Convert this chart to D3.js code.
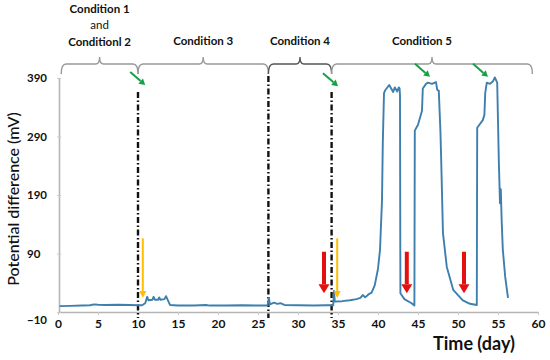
<!DOCTYPE html>
<html>
<head>
  <meta charset='utf-8'>
  <title>Potential difference</title>
  <script src="https://cdnjs.cloudflare.com/ajax/libs/d3/7.8.5/d3.min.js"></script>
  <style>
    html, body {
      margin: 0;
      padding: 0;
      background: #fff;
    }
    svg text {
      font-family: 'Lato', 'DejaVu Sans', sans-serif;
    }
  </style>
</head>
<body>
  <svg id="chart"></svg>
  <script>
    // series: time (day) and potential difference (mV)
    const days = [0.2, 1.5, 3, 4, 4.5, 5, 6, 7.5, 9, 10, 10.5, 10.9, 11.15, 11.3, 11.8, 11.95, 12.1, 12.5, 12.65, 12.8,
      13.3, 13.5, 13.7, 14, 15, 17, 18.5, 19, 21, 23, 25, 26.2, 26.35, 26.5, 27, 27.4, 27.8, 28.3, 30, 32,
      33.5, 34.4, 34.5, 34.6, 35.5, 36.5, 37.3, 37.8, 38.1, 38.4, 38.8, 39.2, 39.6, 40, 40.25, 40.5, 40.6, 40.75, 40.9, 41.4,
      41.9, 42.1, 42.4, 42.6, 42.7, 42.75, 42.8, 43.3, 44.2, 44.55, 44.6, 45, 45.5, 45.6, 46, 46.25, 46.75, 47.25, 47.4, 47.6,
      47.8, 47.9, 48, 48.12, 48.6, 49.4, 50.6, 51.5, 52.35, 52.4, 53.1, 53.3, 53.4, 53.6, 54, 54.4, 54.6, 54.9, 55.1, 55.25,
      55.35, 55.45, 55.6, 55.9, 56.25];
    const potential = [0, 0.5, 1, 1.5, 3, 2.5, 2, 2.5, 2, 1.5, 1.5, 5, 16, 10, 11, 16, 11, 11, 15, 11,
      12, 17, 11, 2, 1, 1, 2, 1, 1, 1.5, 1, 1, 14, 3, 6, 4, 5, 2, 1.5, 1,
      1.5, 1.5, 26, 8, 8.5, 10, 12, 14, 19, 15, 20, 23, 36, 64, 96, 181, 279, 364, 369, 378,
      366, 374, 367, 374, 372, 360, 22, 12, 5, 1, 300, 310, 334, 372, 380, 382, 380, 383, 370, 368,
      300, 250, 193, 125, 67, 28, 10, 4, 2, 305, 318, 327, 364, 382, 380, 385, 391, 382, 250, 176,
      200, 150, 97, 50, 14];

    const xTicks = [0, 5, 10, 15, 20, 25, 30, 35, 40, 45, 50, 55, 60];
    const yTicks = [-10, 90, 190, 290, 390];

    // condition boundaries (day) and labels
    const bounds = [0.4, 10, 26.3, 34.2, 59.3];
    const conditions = [["Condition 1", "and", "Conditionl 2"], ["Condition 3"], ["Condition 4"], ["Condition 5"]];
    const dashDays = [10, 26.3, 34.2];

    // arrows: tip day / mV
    const greenTips = [[10.9, 378], [35, 376], [46.5, 392], [53.75, 392]];
    const yellowTips = [[10.6, 14], [34.9, 14]];
    const redTips = [[33.25, 22], [43.6, 22], [50.75, 22]];

    const width = 550;
    const height = 360;

    const svg = d3.select('#chart')
      .attr('width', width)
      .attr('height', height);

    const x = d3.scaleLinear().domain([0, 60]).range([58, 538]);
    const y = d3.scaleLinear().domain([-10, 390]).range([312, 78]);

    // axes
    const xAxis = svg.append('g')
      .attr('transform', `translate(0,${y(-10)})`)
      .call(d3.axisBottom(x).tickValues(xTicks).tickSize(3).tickSizeOuter(0).tickPadding(4));
    xAxis.select('.domain').attr('stroke', '#b5b5b5').attr('stroke-width', 1.6);
    xAxis.selectAll('.tick line').attr('stroke', '#c8c8c8');
    xAxis.selectAll('text')
      .attr('font-size', 12)
      .attr('font-weight', 'bold')
      .attr('fill', '#111');

    const yAxis = svg.append('g')
      .attr('transform', `translate(${x(0) + 1},0)`)
      .call(d3.axisLeft(y).tickValues(yTicks).tickSize(2).tickSizeOuter(0));
    yAxis.select('.domain').attr('stroke', '#b5b5b5').attr('stroke-width', 1.6);
    yAxis.selectAll('.tick line').attr('stroke', '#c8c8c8').attr('x2', 2).attr('x1', -2);
    yAxis.selectAll('text')
      .attr('x', 27 - x(0) - 1)
      .attr('y', d => d == -10 ? 8 : 0)
      .attr('text-anchor', 'start')
      .attr('font-size', 11.5)
      .attr('font-weight', 'bold')
      .attr('fill', '#111');

    // axis titles
    svg.append('text')
      .attr('transform', `translate(12,${(y(-10) + y(390)) / 2 + 4}) rotate(-90)`)
      .attr('text-anchor', 'middle')
      .attr('dominant-baseline', 'central')
      .attr('font-size', 16)
      .attr('font-weight', 500)
      .attr('fill', '#111')
      .text('Potential difference (mV)');

    svg.append('text')
      .attr('x', 474)
      .attr('y', 343)
      .attr('text-anchor', 'middle')
      .attr('dominant-baseline', 'central')
      .attr('font-size', 18)
      .attr('font-weight', 'bold')
      .attr('fill', '#111')
      .text('Time (day)');

    // dash-dot condition boundaries
    svg.selectAll('.sep')
      .data(dashDays)
      .join('line')
      .attr('class', 'sep')
      .attr('x1', d => x(d))
      .attr('x2', d => x(d))
      .attr('y1', (d, i) => i == 1 ? 76 : 92)
      .attr('y2', 318)
      .attr('stroke', '#111')
      .attr('stroke-width', 2.4)
      .attr('stroke-dasharray', '6,2.5,1.5,2.5');

    // data line
    const pts = days.map((d, i) => [d, potential[i]]);
    svg.append('path')
      .datum(pts)
      .attr('d', d3.line().x(d => x(d[0])).y(d => y(d[1])))
      .attr('fill', 'none')
      .attr('stroke', '#3e7fae')
      .attr('stroke-width', 1.9)
      .attr('stroke-linejoin', 'round');

    // braces over the conditions
    const braceY = 64;
    function brace(x0, x1) {
      const m = (x0 + x1) / 2;
      return `M${x0},${braceY + 10} Q${x0},${braceY} ${x0 + 5},${braceY} L${m - 4},${braceY}` +
        ` Q${m},${braceY} ${m},${braceY - 7} Q${m},${braceY} ${m + 4},${braceY} L${x1 - 5},${braceY}` +
        ` Q${x1},${braceY} ${x1},${braceY + 10}`;
    }
    for (let i = 0; i < conditions.length; i++) {
      const x0 = x(bounds[i]);
      const x1 = x(bounds[i + 1]);
      svg.append('path')
        .attr('d', brace(x0, x1))
        .attr('fill', 'none')
        .attr('stroke', i == 2 ? '#555' : '#999')
        .attr('stroke-width', 1.4);
      const lines = conditions[i];
      const cx = (x0 + x1) / 2 - (i == 3 ? 10 : 0);
      lines.forEach((t, j) => {
        svg.append('text')
          .attr('x', cx)
          .attr('y', lines.length == 1 ? 40 : 8 + j * 16.5)
          .attr('text-anchor', 'middle')
          .attr('dominant-baseline', 'central')
          .attr('font-size', 11.5)
          .attr('font-weight', t == 'and' ? 'normal' : 'bold')
          .attr('fill', '#111')
          .text(t);
      });
    }

    // arrows
    function arrow(x1, y1, x2, y2, color, w, head, headW) {
      const ang = Math.atan2(y2 - y1, x2 - x1);
      const bx = x2 - head * Math.cos(ang);
      const by = y2 - head * Math.sin(ang);
      svg.append('line')
        .attr('x1', x1).attr('y1', y1)
        .attr('x2', bx).attr('y2', by)
        .attr('stroke', color)
        .attr('stroke-width', w);
      const px = -Math.sin(ang) * headW / 2;
      const py = Math.cos(ang) * headW / 2;
      svg.append('polygon')
        .attr('points', `${x2},${y2} ${bx + px},${by + py} ${bx - px},${by - py}`)
        .attr('fill', color);
    }

    greenTips.forEach(d => {
      const tx = x(d[0]), ty = y(d[1]);
      arrow(tx - 15, ty - 13, tx, ty, '#17a046', 2, 6, 7);
    });
    yellowTips.forEach(d => {
      arrow(x(d[0]), y(116), x(d[0]), y(d[1]), '#ffbf00', 2, 7, 7);
    });
    redTips.forEach(d => {
      arrow(x(d[0]), y(93), x(d[0]), y(d[1]), '#e41010', 4, 9, 11);
    });
  </script>
</body>
</html>
